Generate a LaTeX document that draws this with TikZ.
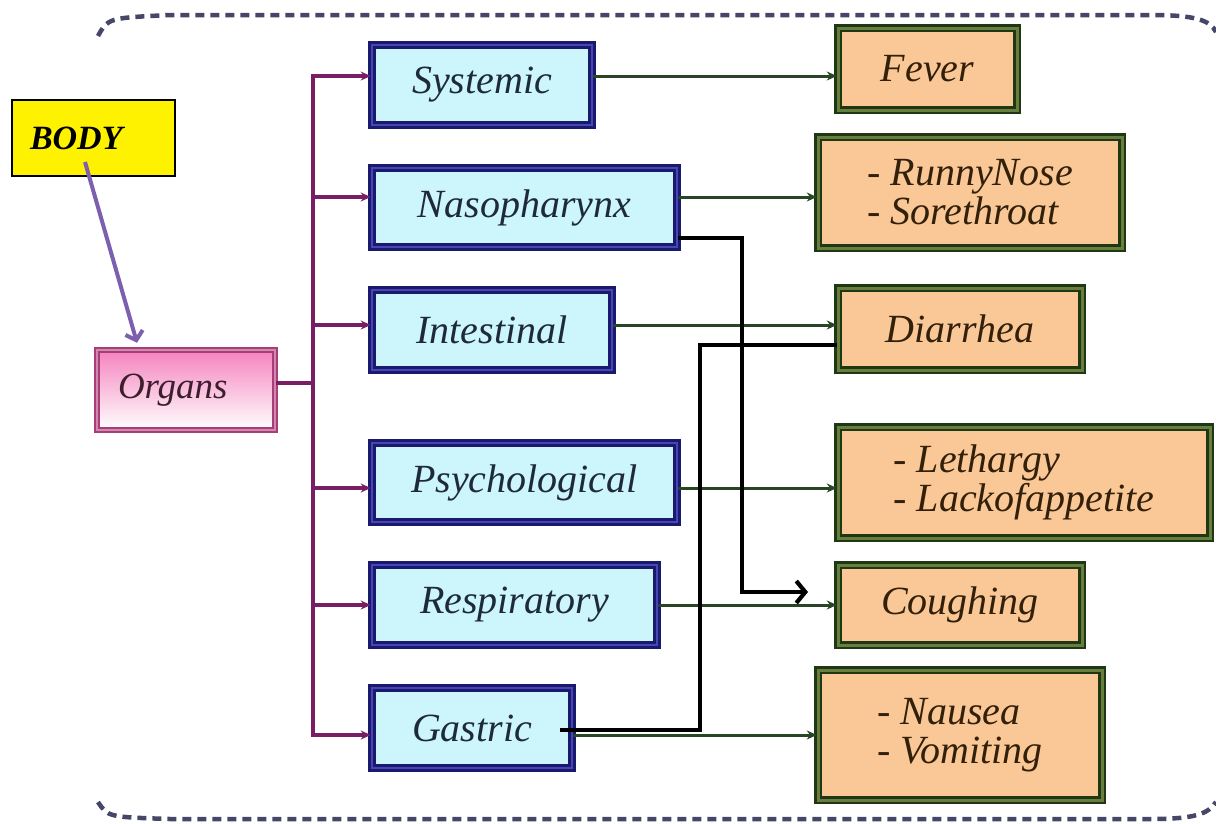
\documentclass[tikz,border=0pt]{standalone}
\usepackage{fontspec}
\setmainfont{Liberation Serif}
\usetikzlibrary{arrows.meta}
\definecolor{cyanfill}{RGB}{204,246,252}
\definecolor{navyb}{RGB}{25,25,110}
\definecolor{midblue}{RGB}{70,70,180}
\definecolor{peach}{RGB}{250,200,150}
\definecolor{dkgreen}{RGB}{30,55,20}
\definecolor{olivb}{RGB}{105,125,60}
\definecolor{trunkc}{RGB}{120,30,100}
\definecolor{garrow}{RGB}{40,70,35}
\definecolor{parrowc}{RGB}{125,95,175}
\definecolor{pinkb}{RGB}{170,60,120}
\definecolor{pinkf}{RGB}{245,130,190}
\definecolor{borderc}{RGB}{70,70,105}
\definecolor{lefttext}{RGB}{30,42,55}
\definecolor{righttext}{RGB}{50,32,10}
\begin{document}
\begin{tikzpicture}[x=1pt,y=-1pt,
  lbox/.style={draw=navyb, double=midblue, double distance=2.5pt, line width=2.6pt,
    fill=cyanfill, inner sep=0pt, font=\fontsize{40}{40}\selectfont\itshape, text=lefttext},
  rbox/.style={draw=dkgreen, double=olivb, double distance=3pt, line width=2.4pt,
    fill=peach, inner sep=0pt, align=left, font=\fontsize{40}{39}\selectfont\itshape, text=righttext},
  trunk/.style={draw=trunkc, line width=3.4pt},
  tarrow/.style={trunk, -{Stealth[length=10pt,width=9pt]}},
  garr/.style={draw=garrow, line width=3pt, -{Stealth[length=10pt,width=9pt]}},
  blk/.style={draw=black, line width=4.2pt},
  parr/.style={draw=parrowc, line width=4pt, -{Straight Barb[length=8pt,width=18pt]}},
  dashb/.style={draw=borderc, line width=4.5pt, dash pattern=on 9pt off 6pt}
]
\useasboundingbox (0,0) rectangle (1216,823);
% dashed frame
\draw[dashb] (98,36) .. controls (108,18) .. (170,15) -- (1150,15) .. controls (1195,15) and (1210,20) .. (1216,32);
\draw[dashb] (98,802) .. controls (108,817) .. (170,819) -- (1150,819) .. controls (1195,819) and (1208,814) .. (1216,802);

% BODY
\node[draw=black, line width=2pt, fill=yellow, minimum height=76pt, text width=127pt, inner xsep=18pt,
      align=left, font=\fontsize{34}{36}\selectfont\bfseries\itshape] (body) at (93.5,138) {BODY};
% Organs
\node[draw=pinkb, double=pinkb!60, double distance=1.5pt, line width=2.5pt,
      top color=pinkf, bottom color=white, minimum height=80pt, text width=136pt, inner xsep=21pt,
      align=left, font=\fontsize{37}{40}\selectfont\itshape, text={rgb,255:red,60;green,30;blue,45}] (organs) at (186,390) {Organs};

% left boxes
\node[lbox, minimum width=220pt, minimum height=80pt] (sys) at (482,85) {Systemic};
\node[lbox, minimum width=305pt, minimum height=79pt] (naso) at (524.5,207.5) {Nasopharynx};
\node[lbox, minimum width=240pt, minimum height=80pt] (intes) at (492,330) {Intestinal};
\node[lbox, minimum width=305pt, minimum height=79pt] (psy) at (524.5,482.5) {Psychological};
\node[lbox, minimum width=285pt, minimum height=80pt] (resp) at (514.5,605) {Respiratory};
\node[lbox, minimum width=200pt, minimum height=80pt] (gas) at (472,728) {Gastric};

% right boxes
\node[rbox, minimum width=179pt, minimum height=82pt] (fever) at (927.5,69) {Fever};
\node[rbox, minimum width=304pt, minimum height=111pt] (runny) at (970,192.5) {- RunnyNose\\- Sorethroat};
\node[rbox, minimum width=244pt, minimum height=82pt] (diar) at (960,329) {Diarrhea};
\node[rbox, minimum width=372pt, minimum height=111pt] (leth) at (1024,482.5) {- Lethargy\\- Lackofappetite};
\node[rbox, minimum width=244pt, minimum height=80pt] (cough) at (960,605) {Coughing};
\node[rbox, minimum width=284pt, minimum height=130pt] (naus) at (960,735) {- Nausea\\- Vomiting};

% row levels and trunk
\coordinate (tr) at (313,383);
\coordinate (r1) at (0,76);
\coordinate (r2) at (0,197);
\coordinate (r3) at (0,325);
\coordinate (r4) at (0,488);
\coordinate (r5) at (0,605);
\coordinate (r6) at (0,735);

\draw[trunk] (organs.east |- tr) -- (tr);
\draw[trunk, line cap=rect] (tr |- r1) -- (tr |- r6);
\draw[tarrow] (tr |- r1) -- (sys.west |- r1);
\draw[tarrow] (tr |- r2) -- (naso.west |- r2);
\draw[tarrow] (tr |- r3) -- (intes.west |- r3);
\draw[tarrow] (tr |- r4) -- (psy.west |- r4);
\draw[tarrow] (tr |- r5) -- (resp.west |- r5);
\draw[tarrow] (tr |- r6) -- (gas.west |- r6);

% green arrows
\draw[garr] (sys.east |- r1) -- (fever.west |- r1);
\draw[garr] (naso.east |- r2) -- (runny.west |- r2);
\draw[garr] (intes.east |- r3) -- (diar.west |- r3);
\draw[garr] (psy.east |- r4) -- (leth.west |- r4);
\draw[garr] (resp.east |- r5) -- (cough.west |- r5);
\draw[garr] (gas.east |- r6) -- (naus.west |- r6);

% black connectors
\coordinate (k1) at (742,238);
\coordinate (k1e) at (808,592);
\draw[blk, -{Straight Barb[length=9pt,width=22pt]}] (naso.east |- k1) -- (k1) |- (k1e);
\coordinate (k2) at (700,730);
\coordinate (k2s) at (560,730);
\coordinate (k2b) at (700,345);
\draw[blk] (k2s) -- (k2) -- (k2b) -- (diar.west |- k2b);

% purple arrow
\coordinate (ba) at (85,162);
\coordinate (ax) at (137,0);
\draw[parr] (ba) -- ([yshift=6pt]organs.north -| ax);
\end{tikzpicture}
\end{document}
